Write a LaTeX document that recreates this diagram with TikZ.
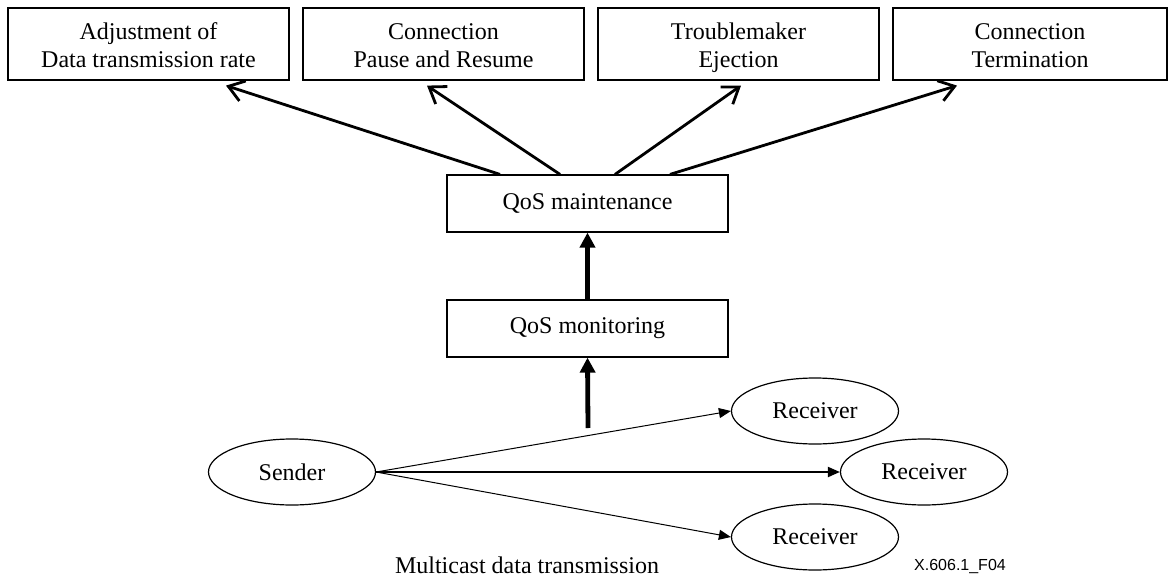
\documentclass[tikz,border=0pt]{standalone}
\usepackage{fontspec}
\setmainfont{Liberation Serif}
\newfontfamily\figsans{Liberation Sans}
\usetikzlibrary{arrows.meta,shapes.geometric}

\begin{document}
\begin{tikzpicture}[x=0.5pt,y=-0.5pt,
	every node/.style={font=\fontsize{12}{14}\selectfont},
	topbox/.style={draw,line width=0.6pt,minimum width=140.5pt,minimum height=36pt,align=center,inner sep=0pt,text depth=0pt},
	qosbox/.style={draw,line width=0.6pt,minimum width=140.5pt,minimum height=28.5pt,inner sep=0pt},
	peer/.style={draw,ellipse,line width=0.6pt,minimum width=83.5pt,minimum height=33pt,inner sep=0pt},
	action/.style={line width=1.4pt,-{Straight Barb[length=7.5pt,width=10.5pt]}},
	feedup/.style={line width=2.4pt,-{Triangle[length=7.5pt,width=7.5pt]}},
	cast/.style={line width=0.5pt,-{Triangle[length=6pt,width=5pt]}}]
\useasboundingbox (0,0) rectangle (1168,578);
\path (148.5,44) node[topbox] (adj) {\strut Adjustment of\\Data transmission rate}
		(443.5,44) node[topbox] (pause) {\strut Connection\\Pause and Resume}
		(738.5,44) node[topbox] (eject) {\strut Troublemaker\\Ejection}
		(1030,44) node[topbox,minimum width=137pt] (term) {\strut Connection\\Termination}
		(587.5,203.5) node[qosbox] (maint) {QoS maintenance}
		(587.5,328.5) node[qosbox] (mon) {QoS monitoring}
		(292,472) node[peer] (send) {Sender}
		(815,411) node[peer] (ra) {Receiver}
		(924,472) node[peer] (rb) {Receiver}
		(815,537) node[peer] (rc) {Receiver}
		(527,565) node (mcast) {Multicast data transmission}
		(960,566) node[font=\figsans\fontsize{8}{9}\selectfont] (tag) {X.606.1\_F04}
		(588,428) coordinate (feed)
		;
\draw [action] ([xshift=-43.75pt]maint.north) -- ([xshift=38.75pt,yshift=-2.5pt]adj.south);
\draw [action] ([xshift=-13.75pt]maint.north) -- ([xshift=-8.25pt,yshift=-2.5pt]pause.south);
\draw [action] ([xshift=13.75pt]maint.north) -- ([xshift=1.25pt,yshift=-2.5pt]eject.south);
\draw [action] ([xshift=41.25pt]maint.north) -- ([xshift=-36.5pt,yshift=-2.5pt]term.south);
\draw [feedup] (mon.north) -- (maint.south);
\draw [feedup] (feed) -- (mon.south);
\draw [cast] (node cs:name=send,anchor=east) -- (node cs:name=ra,anchor=west);
\draw [cast,line width=1pt] (node cs:name=send,anchor=east) -- (node cs:name=rb,anchor=west);
\draw [cast] (node cs:name=send,anchor=east) -- (node cs:name=rc,anchor=west);
\end{tikzpicture}
\end{document}
